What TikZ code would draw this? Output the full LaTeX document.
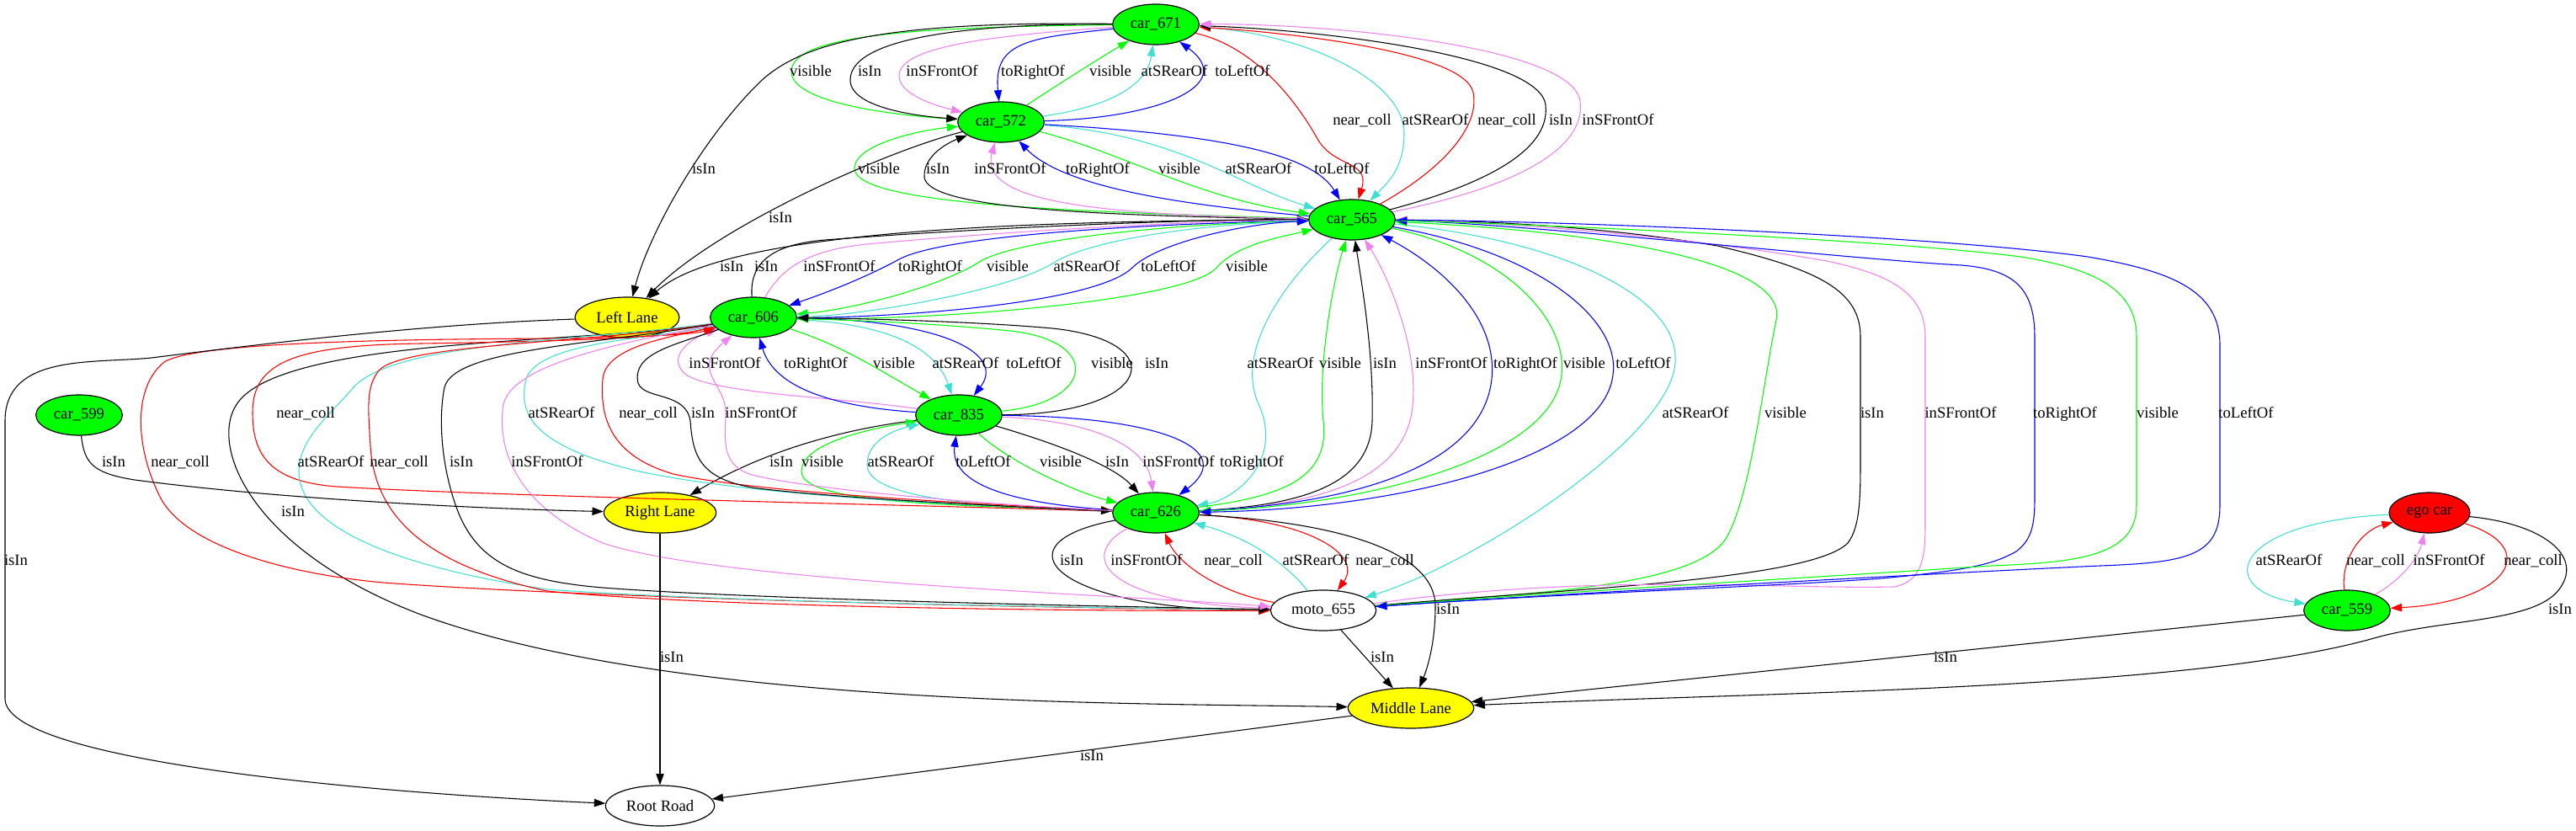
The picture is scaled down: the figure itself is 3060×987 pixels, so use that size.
\documentclass[tikz,border=0pt]{standalone}
\usepackage{fontspec}
\setmainfont{Liberation Serif}
\usetikzlibrary{shapes.geometric,arrows.meta}
\definecolor{gvgreen}{HTML}{00FF00}
\definecolor{gvturq}{HTML}{40E0D0}
\definecolor{gvviolet}{HTML}{EE82EE}
\definecolor{gvblue}{HTML}{0000FF}
\definecolor{gvred}{HTML}{FF0000}
\definecolor{gvyellow}{HTML}{FFFF00}
\newcounter{lbc}
\newcommand\lb[3]{\stepcounter{lbc}\node[lbl] (lab\thelbc) at (#1,#2) {#3};}
\begin{document}
\begin{tikzpicture}[x=0.75pt,y=-0.75pt,
  nd/.style={ellipse, draw=black, line width=0.9pt, inner sep=0pt, font=\fontsize{14}{17}\selectfont, minimum height=36pt},
  car/.style={nd, fill=gvgreen, minimum width=77pt},
  lane/.style={nd, fill=gvyellow},
  plainnd/.style={nd, fill=white},
  lbl/.style={inner sep=0pt, font=\fontsize{14}{17}\selectfont, text height=9.5pt, text depth=3pt},
  edge/.style={line width=0.8pt, -{Triangle[length=10pt,width=7pt]}},
  kA/.style={edge, draw=black},
  gA/.style={edge, draw=gvgreen},
  bA/.style={edge, draw=gvblue},
  rA/.style={edge, draw=gvred},
  tA/.style={edge, draw=gvturq},
  vA/.style={edge, draw=gvviolet}]
\useasboundingbox (0,0) rectangle (3060,987);
\fill[white] (0,0) rectangle (3060,987);

% ---------------- nodes
\node[car] (c671) at (1373,29) {car\_671};
\node[car] (c572) at (1189,145) {car\_572};
\node[car] (c565) at (1606,261) {car\_565};
\node[lane, minimum width=93pt] (left) at (745,377) {Left Lane};
\node[car] (c606) at (895,377) {car\_606};
\node[car] (c599) at (94,493) {car\_599};
\node[car] (c835) at (1139,493) {car\_835};
\node[lane, minimum width=100pt] (right) at (784,609) {Right Lane};
\node[car] (c626) at (1373,609) {car\_626};
\node[plainnd, minimum width=94pt] (moto) at (1572,725) {moto\_655};
\node[nd, fill=gvred, minimum width=72pt] (ego) at (2886,609) {ego car};
\node[car] (c559) at (2788,725) {car\_559};
\node[lane, minimum width=112pt] (mid) at (1676,841) {Middle Lane};
\node[plainnd, minimum width=97pt] (root) at (784,957) {Root Road};

% ---------------- 671 <-> 572
\draw[gA] (c671) .. controls (1100,32) and (940,40) .. (940,85) .. controls (940,125) and (1080,138) .. (c572);
\draw[kA] (c671) .. controls (1150,28) and (1010,45) .. (1010,95) .. controls (1010,128) and (1090,138) .. (c572);
\draw[vA] (c671) .. controls (1180,42) and (1068,55) .. (1068,90) .. controls (1068,112) and (1110,125) .. (c572);
\draw[bA] (c671) .. controls (1220,45) and (1180,50) .. (c572);
\draw[gA] (c572) .. controls (1265,95) and (1305,70) .. (c671);
\draw[tA] (c572) .. controls (1310,128) and (1362,105) .. (c671);
\draw[bA] (c572) .. controls (1380,140) and (1470,100) .. (c671);
% 671 -> Left Lane
\draw[kA] (c671) .. controls (1050,25) and (950,50) .. (900,100) .. controls (830,170) and (770,280) .. (left);
% ---------------- 671 <-> 565
\draw[rA] (c671) .. controls (1490,55) and (1540,120) .. (1565,165) .. controls (1585,200) and (1628,190) .. (c565);
\draw[tA] (c671) .. controls (1560,40) and (1670,100) .. (1668,160) .. controls (1667,200) and (1650,215) .. (c565);
\draw[rA] (c565) .. controls (1715,200) and (1758,150) .. (1750,110) .. controls (1740,60) and (1520,38) .. (c671);
\draw[kA] (c565) .. controls (1760,220) and (1842,180) .. (1836,125) .. controls (1830,65) and (1560,35) .. (c671);
\draw[vA] (c565) .. controls (1790,225) and (1885,180) .. (1877,120) .. controls (1868,55) and (1580,28) .. (c671);
% ---------------- 572 <-> 565
\draw[gA] (c565) .. controls (1300,252) and (1015,245) .. (1015,200) .. controls (1015,172) and (1090,155) .. (c572);
\draw[kA] (c565) .. controls (1300,256) and (1100,248) .. (1098,210) .. controls (1097,188) and (1120,172) .. (c572);
\draw[vA] (c565) .. controls (1330,255) and (1160,245) .. (c572);
\draw[bA] (c565) .. controls (1420,245) and (1265,225) .. (c572);
\draw[gA] (c572) .. controls (1330,180) and (1420,235) .. (c565);
\draw[tA] (c572) .. controls (1400,160) and (1470,220) .. (c565);
\draw[bA] (c572) .. controls (1460,160) and (1560,185) .. (c565);
% -> Left Lane
\draw[kA] (c572) .. controls (1050,180) and (850,270) .. (left);
\draw[kA] (c565) .. controls (1200,262) and (860,275) .. (left);
% ---------------- 606 <-> 565
\draw[kA] (c606) .. controls (890,310) and (920,290) .. (980,285) .. controls (1200,268) and (1450,260) .. (c565);
\draw[vA] (c606) .. controls (925,325) and (950,298) .. (1030,290) .. controls (1250,270) and (1450,262) .. (c565);
\draw[bA] (c565) .. controls (1350,266) and (1120,280) .. (1068,308) .. controls (1035,326) and (990,345) .. (c606);
\draw[gA] (c565) .. controls (1380,266) and (1210,285) .. (1165,310) .. controls (1120,340) and (1010,368) .. (c606);
\draw[tA] (c565) .. controls (1420,266) and (1300,285) .. (1255,310) .. controls (1205,345) and (1020,375) .. (c606);
\draw[bA] (c606) .. controls (1050,378) and (1300,362) .. (1345,318) .. controls (1375,288) and (1480,265) .. (c565);
\draw[gA] (c606) .. controls (1100,382) and (1410,358) .. (1445,318) .. controls (1470,290) and (1520,282) .. (c565);
% ---------------- 606 <-> 835
\draw[vA] (c835) .. controls (1000,472) and (850,468) .. (815,445) .. controls (790,425) and (820,402) .. (c606);
\draw[bA] (c835) .. controls (975,482) and (918,455) .. (c606);
\draw[gA] (c606) .. controls (1000,410) and (1045,440) .. (c835);
\draw[tA] (c606) .. controls (1060,385) and (1112,415) .. (c835);
\draw[bA] (c606) .. controls (1120,380) and (1195,420) .. (c835);
\draw[gA] (c835) .. controls (1300,478) and (1310,405) .. (1200,393) .. controls (1100,383) and (1000,380) .. (c606);
\draw[kA] (c835) .. controls (1370,492) and (1395,405) .. (1250,390) .. controls (1150,381) and (1000,378) .. (c606);
% ---------------- 835 <-> 626, 835 -> Right Lane
\draw[kA] (c835) .. controls (1000,510) and (910,535) .. (right);
\draw[gA] (c626) .. controls (1150,600) and (952,600) .. (952,560) .. controls (952,525) and (1040,508) .. (c835);
\draw[tA] (c626) .. controls (1150,602) and (1030,590) .. (1030,552) .. controls (1030,522) and (1065,510) .. (c835);
\draw[bA] (c626) .. controls (1200,598) and (1128,575) .. (c835);
\draw[gA] (c835) .. controls (1200,550) and (1280,585) .. (c626);
\draw[kA] (c835) .. controls (1265,530) and (1325,555) .. (c626);
\draw[vA] (c835) .. controls (1300,500) and (1362,530) .. (c626);
\draw[bA] (c835) .. controls (1385,495) and (1470,535) .. (c626);
% ---------------- 565 <-> 626
\draw[tA] (c565) .. controls (1520,340) and (1468,420) .. (1495,480) .. controls (1525,545) and (1470,592) .. (c626);
\draw[gA] (c626) .. controls (1520,590) and (1580,570) .. (1572,500) .. controls (1565,430) and (1585,330) .. (c565);
\draw[kA] (c626) .. controls (1560,600) and (1628,570) .. (1630,500) .. controls (1632,420) and (1618,340) .. (c565);
\draw[vA] (c626) .. controls (1590,600) and (1665,560) .. (1677,490) .. controls (1688,420) and (1650,330) .. (c565);
\draw[bA] (c626) .. controls (1630,598) and (1762,545) .. (1772,450) .. controls (1780,370) and (1700,310) .. (c565);
\draw[gA] (c565) .. controls (1790,300) and (1862,380) .. (1855,445) .. controls (1845,545) and (1620,600) .. (c626);
\draw[bA] (c565) .. controls (1830,300) and (1925,380) .. (1916,445) .. controls (1905,545) and (1660,605) .. (c626);
% ---------------- 565 <-> moto (long)
\draw[tA] (c565) .. controls (1850,285) and (1995,350) .. (1990,430) .. controls (1985,520) and (1750,670) .. (moto);
\draw[gA] (moto) .. controls (1800,705) and (2010,700) .. (2050,640) .. controls (2080,590) and (2095,450) .. (2110,380) .. controls (2125,310) and (1900,275) .. (c565);
\draw[kA] (moto) .. controls (1850,700) and (2150,690) .. (2195,645) .. controls (2210,625) and (2210,590) .. (2210,540) -- (2210,400) .. controls (2210,345) and (2160,320) .. (2040,292) .. controls (1900,268) and (1750,262) .. (c565);
\draw[vA] (moto) .. controls (1900,680) and (2100,700) .. (2250,697) .. controls (2285,690) and (2287,660) .. (2287,620) -- (2287,400) .. controls (2287,345) and (2240,325) .. (2170,310) .. controls (2000,280) and (1760,262) .. (c565);
\draw[bA] (moto) .. controls (1850,705) and (2100,697) .. (2235,687) .. controls (2330,678) and (2365,672) .. (2395,655) .. controls (2415,640) and (2417,620) .. (2417,590) -- (2417,400) .. controls (2417,340) and (2390,320) .. (2330,315) .. controls (2200,308) and (1800,265) .. (c565);
\draw[gA] (c565) .. controls (1800,265) and (2250,285) .. (2400,305) .. controls (2480,318) and (2538,340) .. (2538,400) -- (2538,600) .. controls (2538,660) and (2470,668) .. (2365,672) .. controls (2250,680) and (1850,703) .. (moto);
\draw[bA] (c565) .. controls (1850,262) and (2300,280) .. (2480,305) .. controls (2580,322) and (2637,345) .. (2637,410) -- (2637,600) .. controls (2637,660) and (2600,668) .. (2495,672) .. controls (2400,676) and (1850,705) .. (moto);
% ---------------- 626 <-> moto
\draw[kA] (c626) .. controls (1180,645) and (1250,725) .. (moto);
\draw[vA] (c626) .. controls (1280,660) and (1310,715) .. (moto);
\draw[rA] (moto) .. controls (1450,705) and (1400,670) .. (c626);
\draw[tA] (moto) .. controls (1520,660) and (1470,635) .. (c626);
\draw[rA] (c626) .. controls (1560,618) and (1618,660) .. (moto);
% -> Middle Lane
\draw[kA] (moto) -- (mid);
\draw[kA] (c626) .. controls (1590,620) and (1705,655) .. (1705,720) .. controls (1705,760) and (1697,790) .. (mid);
\draw[kA] (c606) .. controls (700,408) and (350,400) .. (285,475) .. controls (245,521) and (290,650) .. (500,730) .. controls (800,840) and (1350,835) .. (mid);
% ---------------- 606 <-> 626
\draw[rA] (c626) .. controls (1100,600) and (600,590) .. (400,578) .. controls (320,572) and (300,540) .. (300,490) .. controls (300,430) and (350,410) .. (500,408) .. controls (700,405) and (800,400) .. (c606);
\draw[tA] (c606) .. controls (780,402) and (640,405) .. (625,450) .. controls (615,490) and (630,530) .. (760,560) .. controls (900,590) and (1150,600) .. (c626);
\draw[rA] (c606) .. controls (800,400) and (720,410) .. (716,450) .. controls (713,490) and (720,540) .. (800,563) .. controls (900,585) and (1150,598) .. (c626);
\draw[kA] (c606) .. controls (800,410) and (750,420) .. (758,455) .. controls (765,475) and (815,465) .. (820,500) .. controls (823,540) and (830,570) .. (900,580) .. controls (1000,592) and (1200,602) .. (c626);
\draw[vA] (c626) .. controls (1150,598) and (950,580) .. (890,563) .. controls (855,550) and (862,520) .. (862,490) .. controls (862,455) and (820,440) .. (c606);
% ---------------- 606 <-> moto
\draw[rA] (moto) .. controls (1200,722) and (700,710) .. (455,692) .. controls (345,682) and (220,650) .. (190,590) .. controls (160,530) and (158,460) .. (195,430) .. controls (235,405) and (500,403) .. (650,402) .. controls (750,401) and (820,398) .. (c606);
\draw[tA] (c606) .. controls (700,405) and (470,405) .. (420,460) .. controls (395,490) and (355,520) .. (355,560) .. controls (355,620) and (450,670) .. (650,700) .. controls (850,715) and (1300,722) .. (moto);
\draw[rA] (c606) .. controls (700,408) and (480,408) .. (450,440) .. controls (435,460) and (437,480) .. (440,530) .. controls (445,610) and (500,670) .. (650,702) .. controls (850,722) and (1300,726) .. (moto);
\draw[kA] (c606) .. controls (700,410) and (540,415) .. (528,460) .. controls (520,500) and (525,560) .. (545,610) .. controls (570,670) and (620,690) .. (716,698) .. controls (900,712) and (1300,720) .. (moto);
\draw[vA] (c606) .. controls (750,405) and (610,430) .. (598,480) .. controls (590,530) and (610,600) .. (716,645) .. controls (850,690) and (1300,705) .. (moto);
% ---------------- lanes -> Root Road
\draw[kA] (left) .. controls (500,385) and (300,410) .. (180,425) .. controls (110,432) and (6,420) .. (6,500) -- (6,830) .. controls (6,900) and (400,940) .. (root);
\draw[kA] (right) -- (root);
\draw[kA] (mid) -- (root);
% car_599
\draw[kA] (c599) .. controls (100,550) and (110,562) .. (160,570) .. controls (350,595) and (600,605) .. (right);
% ---------------- ego / 559
\draw[tA] (ego) .. controls (2650,620) and (2630,700) .. (c559);
\draw[rA] (c559) .. controls (2780,665) and (2805,630) .. (ego);
\draw[vA] (c559) .. controls (2850,690) and (2872,665) .. (ego);
\draw[rA] (ego) .. controls (3020,650) and (2980,715) .. (c559);
\draw[kA] (ego) .. controls (3020,622) and (3070,660) .. (3040,700) .. controls (3010,740) and (2900,735) .. (2820,758) .. controls (2600,820) and (2100,822) .. (mid);
\draw[kA] (c559) -- (mid);

% ---------------- labels
\lb{963}{86}{visible}\lb{1033}{86}{isIn}\lb{1119}{86}{inSFrontOf}\lb{1227}{86}{toRightOf}
\lb{1319}{86}{visible}\lb{1395}{86}{atSRearOf}\lb{1476}{86}{toLeftOf}
\lb{1618}{144}{near\_coll}\lb{1705}{144}{atSRearOf}\lb{1790}{144}{near\_coll}\lb{1854}{144}{isIn}\lb{1922}{144}{inSFrontOf}
\lb{836}{202}{isIn}
\lb{1044}{202}{visible}\lb{1114}{202}{isIn}\lb{1200}{202}{inSFrontOf}\lb{1304}{202}{toRightOf}
\lb{1401}{202}{visible}\lb{1495}{202}{atSRearOf}\lb{1594}{202}{toLeftOf}
\lb{927}{260}{isIn}
\lb{869}{318}{isIn}\lb{910}{318}{isIn}\lb{997}{318}{inSFrontOf}\lb{1105}{318}{toRightOf}
\lb{1197}{318}{visible}\lb{1291}{318}{atSRearOf}\lb{1388}{318}{toLeftOf}\lb{1481}{318}{visible}
\lb{861}{433}{inSFrontOf}\lb{969}{433}{toRightOf}\lb{1062}{433}{visible}\lb{1147}{433}{atSRearOf}
\lb{1228}{433}{toLeftOf}\lb{1321}{433}{visible}\lb{1374}{433}{isIn}
\lb{1521}{433}{atSRearOf}\lb{1592}{433}{visible}\lb{1645}{433}{isIn}\lb{1724}{433}{inSFrontOf}
\lb{1812}{433}{toRightOf}\lb{1882}{433}{visible}\lb{1952}{433}{toLeftOf}
\lb{363}{492}{near\_coll}\lb{667}{492}{atSRearOf}\lb{770}{492}{near\_coll}\lb{835}{492}{isIn}\lb{904}{492}{inSFrontOf}
\lb{2014}{492}{atSRearOf}\lb{2121}{492}{visible}\lb{2224}{492}{isIn}\lb{2329}{492}{inSFrontOf}
\lb{2453}{492}{toRightOf}\lb{2563}{492}{visible}\lb{2668}{492}{toLeftOf}
\lb{135}{550}{isIn}\lb{214}{550}{near\_coll}\lb{393}{550}{atSRearOf}\lb{474}{550}{near\_coll}
\lb{548}{550}{isIn}\lb{650}{550}{inSFrontOf}
\lb{928}{550}{isIn}\lb{977}{550}{visible}\lb{1070}{550}{atSRearOf}\lb{1168}{550}{toLeftOf}
\lb{1260}{550}{visible}\lb{1327}{550}{isIn}\lb{1400}{550}{inSFrontOf}\lb{1487}{550}{toRightOf}
\lb{348}{609}{isIn}
\lb{19}{667}{isIn}\lb{1273}{667}{isIn}\lb{1362}{667}{inSFrontOf}\lb{1465}{667}{near\_coll}
\lb{1563}{667}{atSRearOf}\lb{1645}{667}{near\_coll}
\lb{2719}{667}{atSRearOf}\lb{2822}{667}{near\_coll}\lb{2909}{667}{inSFrontOf}\lb{3009}{667}{near\_coll}
\lb{1720}{725}{isIn}\lb{3041}{725}{isIn}
\lb{798}{782}{isIn}\lb{1642}{782}{isIn}\lb{2311}{782}{isIn}
\lb{1297}{899}{isIn}
\end{tikzpicture}
\end{document}
